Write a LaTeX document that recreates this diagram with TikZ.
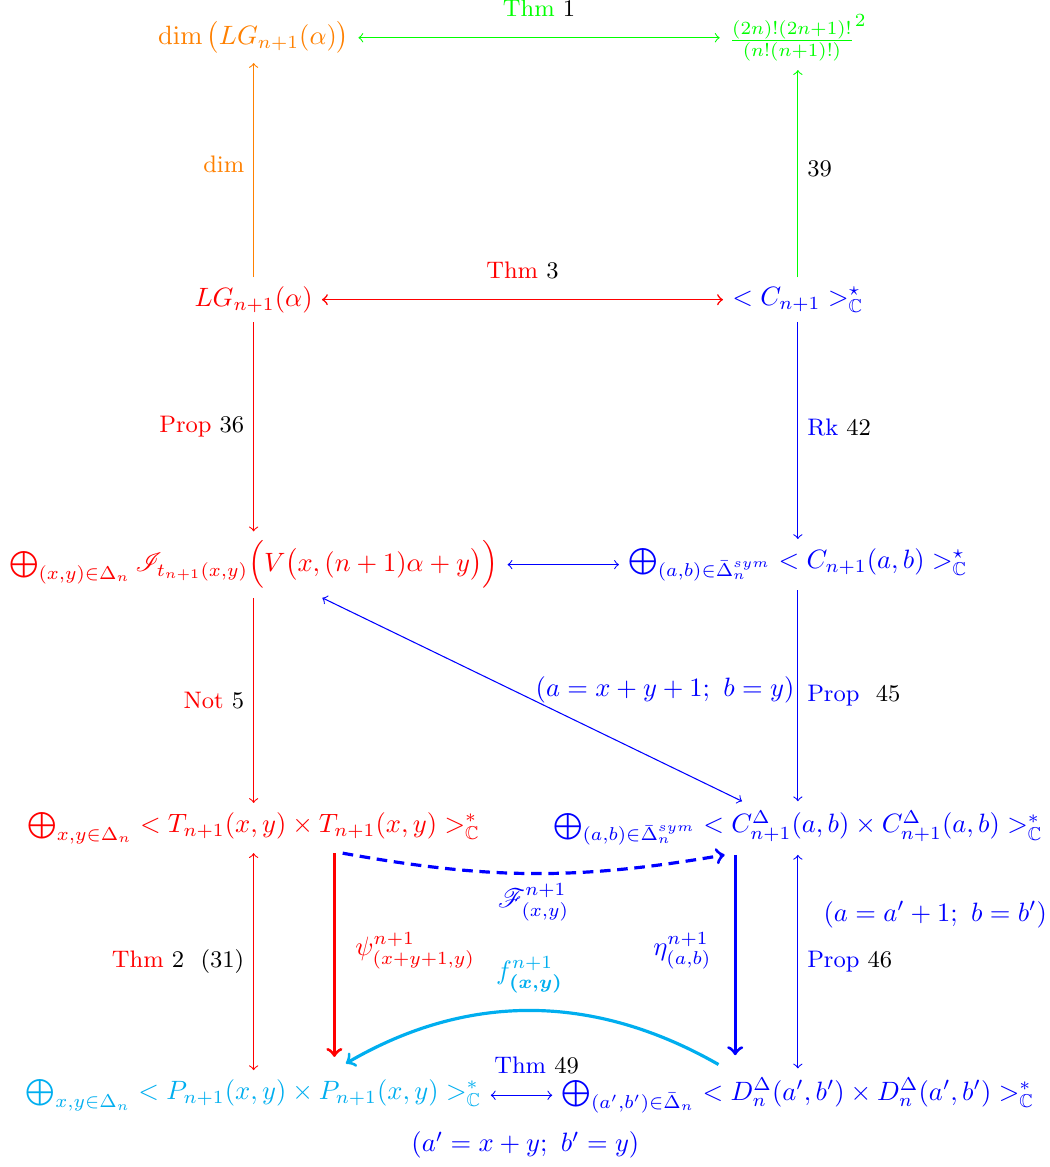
\documentclass[tikz,border=0pt]{standalone}
\usepackage{amsmath,amssymb,mathrsfs}
\definecolor{skyblue}{RGB}{0,174,239}

\begin{document}
\begin{tikzpicture}[
    arr/.style={->},
    dbl/.style={<->},
    heavy/.style={->, very thick, shorten >=5pt},
    lbl/.style={text=black, font=\small},
]
    \useasboundingbox (0,0) rectangle (13.91,15.46);

    % Top row
    \node[text=orange] (dimLG) at (3.36,14.96) {$\dim\big(LG_{n+1}(\alpha)\big)$};
    \node[text=green] (count) at (10.57,14.96) {$\frac{(2n)!(2n+1)!}{(n!(n+1)!)}^{2}$};
    \draw[dbl, green] (dimLG) -- (count) node[midway, above=4.5pt, lbl] {\textcolor{green}{Thm} 1};

    % Second row
    \node[text=red] (LG) at (3.36,11.49) {$LG_{n+1}(\alpha)$};
    \node[text=blue] (Cstar) at (10.57,11.49) {$< C_{n+1} >^{\star}_{\mathbb{C}}$};
    \draw[dbl, red, semithick] (LG) -- (Cstar) node[midway, above=4pt, lbl] {\textcolor{red}{Thm} 3};
    \draw[arr, orange] (LG) -- (dimLG) node[midway, left, font=\small, yshift=2pt] {dim};
    \draw[arr, green] (Cstar) -- (count) node[midway, right, lbl, yshift=2pt] {39};

    % Third row
    \node[text=red] (sumV) at (3.36,7.98) {$\bigoplus_{(x,y)\in\Delta_n}\mathscr{I}_{t_{n+1}(x,y)}\Big(V\big(x,(n+1)\alpha+y\big)\Big)$};
    \node[text=blue] (sumC) at (10.57,7.98) {$\bigoplus_{(a,b)\in\bar{\Delta}_n^{sym}} < C_{n+1}(a,b) >^{\star}_{\mathbb{C}}$};
    \draw[dbl, blue] (sumV) -- (sumC);
    \draw[arr, red] (LG) -- (sumV) node[midway, left, lbl] {\textcolor{red}{Prop} 36};
    \draw[arr, blue] (Cstar) -- (sumC) node[midway, right, lbl, yshift=1pt] {\textcolor{blue}{Rk} 42};

    % Fourth row
    \node[text=red] (sumT) at (3.36,4.49) {$\bigoplus_{x,y\in\Delta_n} < T_{n+1}(x,y)\times T_{n+1}(x,y) >^{*}_{\mathbb{C}}$};
    \node[text=blue] (sumCC) at (10.57,4.49) {$\bigoplus_{(a,b)\in\bar{\Delta}_n^{sym}} < C^{\Delta}_{n+1}(a,b)\times C^{\Delta}_{n+1}(a,b) >^{*}_{\mathbb{C}}$};
    \draw[arr, red] (sumV) -- (sumT) node[midway, left, lbl] {\textcolor{red}{Not} 5};
    \draw[arr, blue] (sumC) -- (sumCC) node[midway, right, lbl] {\textcolor{blue}{Prop}\ \ 45};
    \draw[dbl, blue] ([xshift=-0.74cm]sumCC.north) -- ([xshift=0.91cm]sumV.south);
    \node[text=blue] (subst1) at (8.81,6.32) {$(a=x+y+1;\ b=y)$};

    % Fifth row
    \node[text=skyblue] (sumP) at (3.36,0.95) {$\bigoplus_{x,y\in\Delta_n} < P_{n+1}(x,y)\times P_{n+1}(x,y) >^{*}_{\mathbb{C}}$};
    \node[text=blue] (sumD) at (10.57,0.95) {$\bigoplus_{(a',b')\in\bar{\Delta}_n} < D^{\Delta}_{n}(a',b')\times D^{\Delta}_{n}(a',b') >^{*}_{\mathbb{C}}$};
    \draw[dbl, blue] (sumP) -- (sumD) node[midway, above=4.5pt, lbl, xshift=0.2cm] {\textcolor{blue}{Thm} 49};
    \draw[dbl, red] (sumT) -- (sumP) node[midway, left, lbl] {\textcolor{red}{Thm} 2\ \ (31)};
    \draw[dbl, blue] (sumCC) -- (sumD) node[midway, right, lbl] {\textcolor{blue}{Prop} 46};
    \node[text=blue] (subst2) at (12.39,3.34) {$(a=a'+1;\ b=b')$};
    \node[text=blue] (subst3) at (6.96,0.29) {$(a'=x+y;\ b'=y)$};

    % Maps between the fourth and fifth rows
    \draw[heavy, red] ([xshift=1.07cm]sumT.south) -- ([xshift=1.07cm]sumP.north) node[pos=0.45, right=4pt] {$\psi^{n+1}_{(x+y+1,y)}$};
    \draw[heavy, blue] ([xshift=-0.83cm]sumCC.south) -- ([xshift=-0.83cm]sumD.north) node[pos=0.45, left=5pt] {$\eta^{n+1}_{(a,b)}$};
    \draw[->, very thick, dash pattern=on 4pt off 2.5pt, blue] ([xshift=1.18cm]sumT.south) to[bend right=10] node[midway, below] {$\mathscr{F}^{n+1}_{(x,y)}$} ([xshift=-0.97cm]sumCC.south);
    \draw[heavy, skyblue, shorten <=3pt] ([xshift=-0.96cm]sumD.north) to[bend right=30] node[midway, above=3pt] {$f^{n+1}_{\boldsymbol{(x,y)}}$} ([xshift=1.07cm]sumP.north);
\end{tikzpicture}
\end{document}
